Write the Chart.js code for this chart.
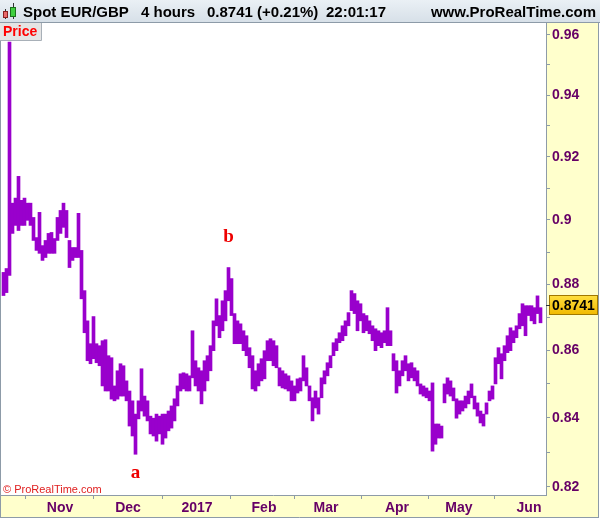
<!DOCTYPE html>
<html>
<head>
<meta charset="utf-8">
<script src="https://cdn.jsdelivr.net/npm/chart.js@4"></script>
<style>
  html, body { margin: 0; padding: 0; background: #ffffff; }
  #wrap { width: 600px; height: 519px; }
</style>
</head>
<body>
<div id="wrap"><canvas id="priceChart" width="600" height="519"></canvas></div>
<script>
// Spot EUR/GBP, 4 hour bars, Oct 2016 - Jun 2017 (each column = a few bars, low/high)
const lows = [
  0.8766, 0.8775, 0.8828, 0.8958, 0.8983, 0.8967, 0.8983, 0.8983, 0.8999, 0.8983,
  0.8936, 0.8905, 0.8896, 0.8874, 0.8883, 0.8896, 0.8896, 0.8896, 0.8936, 0.8958,
  0.8977, 0.8945, 0.8852, 0.8874, 0.8883, 0.8883, 0.8756, 0.8653, 0.8569, 0.8560,
  0.8575, 0.8563, 0.8554, 0.8494, 0.8479, 0.8479, 0.8455, 0.8450, 0.8455, 0.8464,
  0.8464, 0.8450, 0.8376, 0.8347, 0.8294, 0.8397, 0.8420, 0.8405, 0.8391, 0.8353,
  0.8347, 0.8332, 0.8353, 0.8323, 0.8341, 0.8362, 0.8370, 0.8391, 0.8435, 0.8479,
  0.8485, 0.8479, 0.8479, 0.8518, 0.8494, 0.8479, 0.8441, 0.8479, 0.8509, 0.8539,
  0.8599, 0.8674, 0.8638, 0.8659, 0.8689, 0.8750, 0.8705, 0.8620, 0.8620, 0.8620,
  0.8599, 0.8584, 0.8548, 0.8485, 0.8479, 0.8494, 0.8509, 0.8515, 0.8569, 0.8569,
  0.8554, 0.8548, 0.8494, 0.8488, 0.8485, 0.8479, 0.8450, 0.8450, 0.8473, 0.8479,
  0.8509, 0.8494, 0.8450, 0.8391, 0.8429, 0.8411, 0.8459, 0.8500, 0.8524, 0.8548,
  0.8584, 0.8599, 0.8623, 0.8629, 0.8644, 0.8674, 0.8720, 0.8711, 0.8659, 0.8689,
  0.8653, 0.8659, 0.8650, 0.8629, 0.8599, 0.8614, 0.8608, 0.8623, 0.8614, 0.8614,
  0.8539, 0.8473, 0.8494, 0.8524, 0.8539, 0.8509, 0.8518, 0.8509, 0.8494, 0.8470,
  0.8464, 0.8459, 0.8450, 0.8303, 0.8323, 0.8341, 0.8341, 0.8444, 0.8470, 0.8464,
  0.8450, 0.8399, 0.8411, 0.8420, 0.8429, 0.8441, 0.8459, 0.8426, 0.8405, 0.8385,
  0.8376, 0.8411, 0.8450, 0.8455, 0.8500, 0.8560, 0.8515, 0.8569, 0.8593, 0.8599,
  0.8623, 0.8638, 0.8665, 0.8674, 0.8644, 0.8705, 0.8689, 0.8680, 0.8711, 0.8683
];
const highs = [
  0.8837, 0.8849, 0.9576, 0.9053, 0.9069, 0.9138, 0.9062, 0.9069, 0.9053, 0.9053,
  0.9008, 0.8945, 0.9024, 0.8920, 0.8936, 0.8958, 0.8961, 0.8942, 0.9008, 0.9030,
  0.9053, 0.9030, 0.8936, 0.8914, 0.8914, 0.9021, 0.8905, 0.8781, 0.8689, 0.8620,
  0.8702, 0.8620, 0.8614, 0.8629, 0.8632, 0.8584, 0.8578, 0.8494, 0.8539, 0.8560,
  0.8554, 0.8509, 0.8479, 0.8450, 0.8411, 0.8450, 0.8545, 0.8464, 0.8450, 0.8405,
  0.8399, 0.8411, 0.8405, 0.8411, 0.8411, 0.8420, 0.8435, 0.8456, 0.8494, 0.8530,
  0.8533, 0.8530, 0.8524, 0.8659, 0.8569, 0.8548, 0.8539, 0.8569, 0.8584, 0.8614,
  0.8689, 0.8756, 0.8705, 0.8750, 0.8781, 0.8852, 0.8818, 0.8711, 0.8689, 0.8680,
  0.8659, 0.8644, 0.8608, 0.8584, 0.8539, 0.8560, 0.8575, 0.8599, 0.8629, 0.8635,
  0.8629, 0.8614, 0.8548, 0.8539, 0.8530, 0.8524, 0.8509, 0.8494, 0.8515, 0.8518,
  0.8584, 0.8548, 0.8494, 0.8459, 0.8479, 0.8459, 0.8518, 0.8539, 0.8563, 0.8584,
  0.8623, 0.8635, 0.8653, 0.8674, 0.8689, 0.8714, 0.8781, 0.8772, 0.8750, 0.8741,
  0.8711, 0.8705, 0.8689, 0.8674, 0.8665, 0.8659, 0.8653, 0.8659, 0.8729, 0.8659,
  0.8590, 0.8569, 0.8539, 0.8569, 0.8584, 0.8560, 0.8563, 0.8548, 0.8539, 0.8500,
  0.8494, 0.8488, 0.8479, 0.8503, 0.8382, 0.8382, 0.8376, 0.8500, 0.8518, 0.8509,
  0.8488, 0.8456, 0.8450, 0.8450, 0.8464, 0.8479, 0.8500, 0.8464, 0.8444, 0.8420,
  0.8411, 0.8444, 0.8479, 0.8494, 0.8578, 0.8608, 0.8590, 0.8614, 0.8644, 0.8668,
  0.8659, 0.8674, 0.8711, 0.8741, 0.8735, 0.8735, 0.8735, 0.8729, 0.8765, 0.8729
];

// month boundaries, in column units
const monthLabels = ['Nov', 'Dec', '2017', 'Feb', 'Mar', 'Apr', 'May', 'Jun'];
const monthPos = [18.83, 41.5, 64.5, 86.83, 107.5, 131.17, 151.83, 175.17];

const yTicks = [0.82, 0.83, 0.84, 0.85, 0.86, 0.87, 0.88, 0.89, 0.90, 0.91, 0.92, 0.93, 0.94, 0.95, 0.96];
const yTickText = ['0.82', '', '0.84', '', '0.86', '', '0.88', '', '0.9', '', '0.92', '', '0.94', '', '0.96'];

const lastPrice = 0.8741;
const lowMark = 44;   // "a"
const highMark = 75;  // "b"

const PURPLE = '#9900cc';
const AXIS_TEXT = '#660066';
const FRAME = '#8d9ba8';

const bars = lows.map((lo, i) => ({ x: i, y: [lo, highs[i]] }));

const chromePlugin = {
    id: 'prtChrome',
    beforeDraw(chart) {
        const { ctx, chartArea: a, width, height } = chart;
        ctx.save();
        ctx.fillStyle = '#ffffff';
        ctx.fillRect(0, 0, width, height);
        ctx.fillStyle = '#ffffcc';
        ctx.fillRect(0, 22, 599, 496);
        ctx.fillStyle = '#ffffff';
        ctx.fillRect(a.left, a.top, a.right - a.left, a.bottom - a.top);

        // header bar
        const g = ctx.createLinearGradient(0, 0, 0, 22);
        g.addColorStop(0, '#eaf0f5');
        g.addColorStop(1, '#d7e0e8');
        ctx.fillStyle = g;
        ctx.fillRect(0, 0, width, 22);
        ctx.restore();
    },
    afterDraw(chart) {
        const { ctx, chartArea: a, scales } = chart;
        const xs = scales.x, ys = scales.y;
        ctx.save();

        // frame lines
        ctx.strokeStyle = FRAME;
        ctx.lineWidth = 1;
        ctx.beginPath();
        ctx.moveTo(0, 22.5); ctx.lineTo(600, 22.5);
        ctx.moveTo(0.5, 22); ctx.lineTo(0.5, 518);
        ctx.moveTo(0, 517.5); ctx.lineTo(599, 517.5);
        ctx.moveTo(598.5, 22); ctx.lineTo(598.5, 518);
        ctx.moveTo(a.left, a.bottom + 0.5); ctx.lineTo(a.right, a.bottom + 0.5);
        ctx.moveTo(a.right + 0.5, a.top); ctx.lineTo(a.right + 0.5, a.bottom + 1);
        ctx.stroke();

        // header icon: two little candles
        ctx.fillStyle = '#333';
        ctx.fillRect(5, 9, 1, 10);
        ctx.fillRect(13, 3, 1, 16);
        ctx.fillStyle = '#e86a6a';
        ctx.fillRect(3, 11, 5, 7);
        ctx.strokeStyle = '#8a2020';
        ctx.strokeRect(3.5, 11.5, 4, 6);
        ctx.fillStyle = '#3fcf3f';
        ctx.fillRect(10, 7, 6, 10);
        ctx.strokeStyle = '#1c6f1c';
        ctx.strokeRect(10.5, 7.5, 5, 9);

        // header text
        ctx.fillStyle = '#000';
        ctx.font = 'bold 15px "Liberation Sans", Arial, sans-serif';
        ctx.textBaseline = 'alphabetic';
        ctx.textAlign = 'left';
        ctx.fillText('Spot EUR/GBP', 23, 17);
        ctx.fillText('4 hours', 141, 17);
        ctx.fillText('0.8741 (+0.21%)', 207, 17);
        ctx.fillText('22:01:17', 326, 17);
        ctx.textAlign = 'right';
        ctx.fillText('www.ProRealTime.com', 596, 17);

        // "Price" tab
        ctx.fillStyle = '#e4e4e4';
        ctx.fillRect(0, 23, 41, 17);
        ctx.strokeStyle = '#a8b0b8';
        ctx.beginPath();
        ctx.moveTo(41.5, 23); ctx.lineTo(41.5, 40.5); ctx.lineTo(0, 40.5);
        ctx.stroke();
        ctx.fillStyle = '#ff0000';
        ctx.textAlign = 'left';
        ctx.font = 'bold 14px "Liberation Sans", Arial, sans-serif';
        ctx.fillText('Price', 3, 36);

        // wave labels
        ctx.font = 'bold 19px "Liberation Serif", "Times New Roman", serif';
        ctx.textAlign = 'center';
        ctx.fillStyle = '#ee0000';
        ctx.textBaseline = 'middle';
        ctx.fillText('a', xs.getPixelForValue(lowMark), ys.getPixelForValue(lows[lowMark]) + 19);
        ctx.fillText('b', xs.getPixelForValue(highMark), ys.getPixelForValue(highs[highMark]) - 30);

        // copyright
        ctx.font = '11px "Liberation Sans", Arial, sans-serif';
        ctx.textAlign = 'left';
        ctx.textBaseline = 'alphabetic';
        ctx.fillStyle = '#e02020';
        ctx.fillText('\u00a9 ProRealTime.com', 3, 493);

        // last price flag
        const py = Math.round(ys.getPixelForValue(lastPrice)) + 1;
        const fg = ctx.createLinearGradient(0, py - 10, 0, py + 10);
        fg.addColorStop(0, '#ffe040');
        fg.addColorStop(1, '#f0b800');
        ctx.fillStyle = fg;
        ctx.fillRect(549, py - 10, 49, 20);
        ctx.strokeStyle = '#a07800';
        ctx.strokeRect(549.5, py - 9.5, 48, 19);
        ctx.fillStyle = '#333';
        ctx.fillRect(a.right, py, 4, 1);
        ctx.fillStyle = '#000';
        ctx.font = 'bold 14px "Liberation Sans", Arial, sans-serif';
        ctx.textBaseline = 'middle';
        ctx.fillText('0.8741', 552, py + 1);

        ctx.restore();
    }
};

const ctx = document.getElementById('priceChart').getContext('2d');
const chart = new Chart(ctx, {
    type: 'bar',
    data: {
        datasets: [{
            label: 'EUR/GBP',
            data: bars,
            backgroundColor: PURPLE,
            borderWidth: 0,
            barPercentage: 1,
            categoryPercentage: 1
        }]
    },
    options: {
        responsive: false,
        animation: false,
        layout: { padding: { top: 23, left: 1, right: 0, bottom: 0 } },
        plugins: {
            legend: { display: false },
            title: { display: false },
            tooltip: { enabled: false }
        },
        scales: {
            x: {
                type: 'linear',
                position: 'bottom',
                offset: false,
                min: -0.833,
                max: 180.833,
                afterFit(scale) { scale.height = 24; },
                afterBuildTicks(scale) {
                    scale.ticks = monthPos.map(v => ({ value: v }));
                },
                ticks: {
                    autoSkip: false,
                    maxRotation: 0,
                    padding: 1,
                    color: AXIS_TEXT,
                    font: { family: '"Liberation Sans", Arial, sans-serif', size: 14, weight: 'bold' },
                    callback: (v, i) => monthLabels[i]
                },
                grid: {
                    drawOnChartArea: false,
                    drawTicks: true,
                    tickLength: 4,
                    color: FRAME
                },
                border: { display: false }
            },
            y: {
                type: 'logarithmic',
                position: 'right',
                min: 0.8177,
                max: 0.964,
                afterFit(scale) { scale.width = 54; },
                afterBuildTicks(scale) {
                    scale.ticks = yTicks.map(v => ({ value: v }));
                },
                ticks: {
                    autoSkip: false,
                    padding: 2,
                    color: AXIS_TEXT,
                    font: { family: '"Liberation Sans", Arial, sans-serif', size: 14, weight: 'bold' },
                    callback: (v, i) => yTickText[i]
                },
                grid: {
                    drawOnChartArea: false,
                    drawTicks: true,
                    tickLength: 4,
                    color: FRAME
                },
                border: { display: false }
            }
        }
    },
    plugins: [chromePlugin]
});
</script>
</body>
</html>
